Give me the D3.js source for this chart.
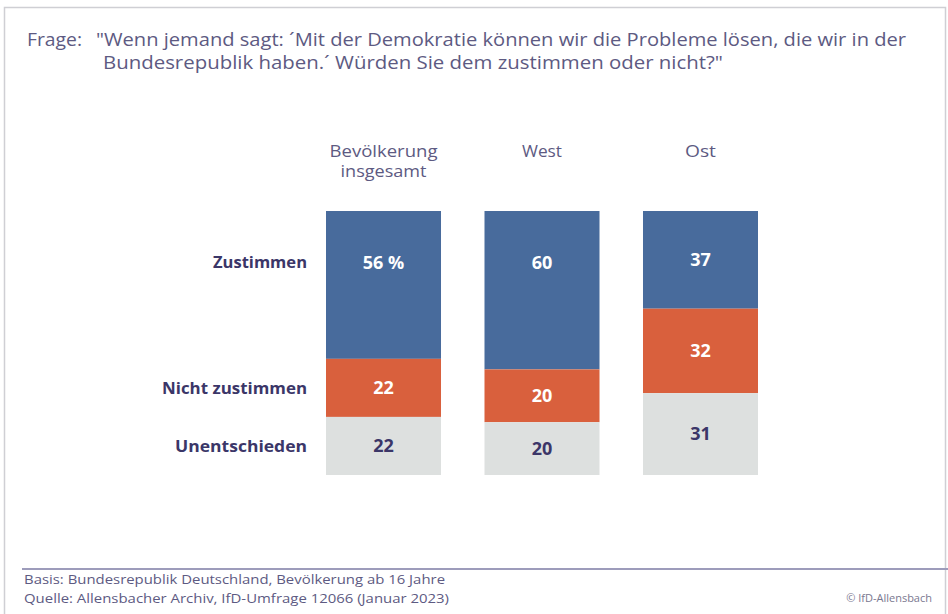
<!DOCTYPE html>
<html>
<head>
<meta charset="utf-8">
<title>Demokratie</title>
<script src="https://cdn.jsdelivr.net/npm/d3@7"></script>
<style>
body { margin: 0; background: #fff; }
svg text { font-family: "Open Sans", "DejaVu Sans", sans-serif; }
</style>
</head>
<body>
<svg id="chart" width="948" height="614"></svg>
<script>
// Werte
var groups = ["Bevölkerung insgesamt", "West", "Ost"];
var groupLines = [["Bevölkerung", "insgesamt"], ["West"], ["Ost"]];
var answers = ["Zustimmen", "Nicht zustimmen", "Unentschieden"];
var zustimmen = [56, 60, 37];
var nichtZustimmen = [22, 20, 32];
var unentschieden = [22, 20, 31];
var valueSuffix = [" %", "", ""];

var titleLines = [
  "\"Wenn jemand sagt: \u00b4Mit der Demokratie können wir die Probleme lösen, die wir in der",
  "Bundesrepublik haben.\u00b4 Würden Sie dem zustimmen oder nicht?\""
];
var footLines = [
  "Basis: Bundesrepublik Deutschland, Bevölkerung ab 16 Jahre",
  "Quelle: Allensbacher Archiv, IfD-Umfrage 12066 (Januar 2023)"
];

var colors = ["#486b9c", "#d9603d", "#dde0df"];
var textCol = ["#ffffff", "#ffffff", "#3b3668"];

var svg = d3.select("#chart");

// Rahmen
svg.append("rect").attr("x", 4.5).attr("y", 7.5).attr("width", 941).attr("height", 620)
  .attr("fill", "none").attr("stroke", "#cfcfd4").attr("stroke-width", 1.5);

// Frage (Breiten wie im Original, Schrift ist dort breiter)
svg.append("text").attr("x", 27).attr("y", 46).attr("font-size", 18.5).attr("fill", "#5d5a82")
  .attr("textLength", 55).attr("lengthAdjust", "spacingAndGlyphs")
  .text("Frage:");
var titleX = [96, 103], titleW = [810, 620];
svg.selectAll("text.q").data(titleLines).enter().append("text")
  .attr("class", "q")
  .attr("x", function(d, i) { return titleX[i]; })
  .attr("y", function(d, i) { return 46 + i * 23; })
  .attr("font-size", 18.5).attr("fill", "#5d5a82")
  .attr("textLength", function(d, i) { return titleW[i]; })
  .attr("lengthAdjust", "spacingAndGlyphs")
  .text(function(d) { return d; });

// Daten stapeln
var rows = groups.map(function(g, i) {
  return { group: g, Zustimmen: zustimmen[i], "Nicht zustimmen": nichtZustimmen[i], Unentschieden: unentschieden[i] };
});
var stacked = d3.stack().keys(answers)(rows);

var x = d3.scaleBand().domain(groups).range([326, 758]).paddingInner(0.2744).paddingOuter(0);
var y = d3.scaleLinear().domain([0, 100]).range([211, 475]);

var layer = svg.selectAll("g.layer").data(stacked).enter().append("g")
  .attr("class", "layer")
  .attr("fill", function(d, i) { return colors[i]; });

layer.selectAll("rect").data(function(d) { return d; }).enter().append("rect")
  .attr("x", function(d) { return x(d.data.group); })
  .attr("y", function(d) { return y(d[0]); })
  .attr("width", x.bandwidth())
  .attr("height", function(d) { return y(d[1]) - y(d[0]); });

function labelY(d, si) {
  var mid = (d[0] + d[1]) / 2;
  if (si == 0) mid = Math.min(mid, 19.5);
  return y(mid);
}

layer.each(function(s, si) {
  d3.select(this).selectAll("text").data(s).enter().append("text")
    .attr("x", function(d) { return x(d.data.group) + x.bandwidth() / 2; })
    .attr("y", function(d) { return labelY(d, si); })
    .attr("dy", "0.35em")
    .attr("text-anchor", "middle")
    .attr("font-size", 18).attr("font-weight", "bold")
    .attr("fill", textCol[si])
    .attr("xml:space", "preserve")
    .text(function(d, gi) { return (d[1] - d[0]) + (si == 0 ? valueSuffix[gi] : ""); });
});

// Zeilenbeschriftungen (an der ersten Säule ausgerichtet)
var first = stacked.map(function(s, si) { return labelY(s[0], si); });
var rowW = [94, 145, 132];
svg.selectAll("text.row").data(answers).enter().append("text")
  .attr("class", "row")
  .attr("x", 307)
  .attr("y", function(d, i) { return first[i]; })
  .attr("dy", "0.35em")
  .attr("text-anchor", "end")
  .attr("font-size", 16.5).attr("font-weight", "bold")
  .attr("fill", "#3b3668")
  .attr("textLength", function(d, i) { return rowW[i]; })
  .attr("lengthAdjust", "spacingAndGlyphs")
  .text(function(d) { return d; });

// Spaltenköpfe
var headW = [[108, 86], [40], [31]];
svg.selectAll("g.head").data(groups).enter().append("g")
  .attr("class", "head")
  .each(function(g, gi) {
    d3.select(this).selectAll("text").data(groupLines[gi]).enter().append("text")
      .attr("x", x(g) + x.bandwidth() / 2)
      .attr("y", function(d, li) { return 157 + li * 20; })
      .attr("text-anchor", "middle")
      .attr("font-size", 16).attr("fill", "#5d5a82")
      .attr("textLength", function(d, li) { return headW[gi][li]; })
      .attr("lengthAdjust", "spacingAndGlyphs")
      .text(function(d) { return d; });
  });

// Fuß
svg.append("line").attr("x1", 22).attr("x2", 948).attr("y1", 569).attr("y2", 569)
  .attr("stroke", "#9d9cbb").attr("stroke-width", 2);
var footW = [421, 425];
svg.selectAll("text.foot").data(footLines).enter().append("text")
  .attr("class", "foot")
  .attr("x", 24)
  .attr("y", function(d, i) { return 584 + i * 19; })
  .attr("font-size", 13.5).attr("fill", "#5d5a82")
  .attr("textLength", function(d, i) { return footW[i]; })
  .attr("lengthAdjust", "spacingAndGlyphs")
  .text(function(d) { return d; });
svg.append("text").attr("x", 932).attr("y", 602).attr("text-anchor", "end")
  .attr("font-size", 11).attr("fill", "#7a7890").text("\u00a9 IfD-Allensbach");
</script>
</body>
</html>
